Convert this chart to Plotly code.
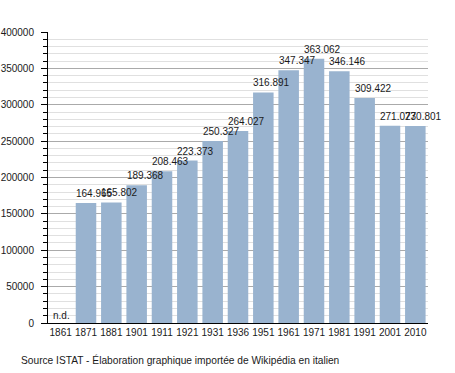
import plotly.graph_objects as go

years = ["1861", "1871", "1881", "1901", "1911", "1921", "1931", "1936",
         "1951", "1961", "1971", "1981", "1991", "2001", "2010"]
population = [None, 164965, 165802, 189368, 208463, 223373, 250327, 264027,
              316891, 347347, 363062, 346146, 309422, 271073, 270801]
missing_label = "n.d."
y_ticks = [0, 50000, 100000, 150000, 200000, 250000, 300000, 350000, 400000]
source_text = "Source ISTAT - Élaboration graphique importée de Wikipédia en italien"

BAR_COLOR = "#99b3cf"
FONT = "Liberation Sans, Arial, sans-serif"
TXT = "#1a1a1a"

fig = go.Figure()
fig.add_trace(go.Bar(
    x=years, y=population, marker=dict(color=BAR_COLOR, line=dict(width=0)),
    hoverinfo="x+y",
))

def fmt(v):
    return f"{v:,}".replace(",", ".")

W, H = 455, 373
ml, mr, mt, mb = 48, 27, 31.5, 49.5
pw, ph = W - ml - mr, H - mt - mb

annotations = []
for i, v in enumerate(population):
    if v is None:
        annotations.append(dict(x=i, y=0, text=missing_label, xref="x", yref="y",
                                xanchor="left", yanchor="bottom", xshift=-10, yshift=0,
                                showarrow=False, font=dict(family=FONT, size=10, color=TXT)))
    else:
        annotations.append(dict(x=i, y=v, text=fmt(v), xref="x", yref="y",
                                xanchor="left", yanchor="bottom", xshift=-12, yshift=2,
                                showarrow=False, font=dict(family=FONT, size=10, color=TXT)))
annotations.append(dict(x=(19 - ml) / pw, y=(H - mb - 361) / ph, xref="paper", yref="paper",
                        text=source_text, showarrow=False, xanchor="left", yanchor="middle",
                        font=dict(family=FONT, size=10.2, color=TXT)))

fig.update_layout(
    width=W, height=H,
    margin=dict(l=ml, r=mr, t=mt, b=mb, pad=0, autoexpand=False),
    paper_bgcolor="white", plot_bgcolor="white",
    bargap=0.19,
    showlegend=False,
    font=dict(family=FONT, size=10, color=TXT),
    annotations=annotations,
    xaxis=dict(
        type="category", range=[-0.5, len(years) - 0.5], autorange=False,
        automargin=False, tickangle=0,
        showline=True, linecolor="black", linewidth=1,
        ticks="", showgrid=False, tickfont=dict(size=10, color=TXT),
        zeroline=False,
    ),
    yaxis=dict(
        range=[0, 400000], autorange=False, tickvals=y_ticks, tickformat="d",
        automargin=False, ticklabelstandoff=5,
        showline=True, linecolor="black", linewidth=1,
        ticks="outside", ticklen=6, tickcolor="black",
        showgrid=True, gridcolor="#aaaaaa", gridwidth=1,
        zeroline=False, tickfont=dict(size=10, color=TXT),
        minor=dict(dtick=10000, ticks="outside", ticklen=4, tickcolor="black",
                   showgrid=True, gridcolor="#e0e0e0", gridwidth=1),
    ),
)

fig.write_html("out.html", config={"displayModeBar": False},
               post_script="document.body.style.margin='0';document.body.style.overflow='hidden';")
